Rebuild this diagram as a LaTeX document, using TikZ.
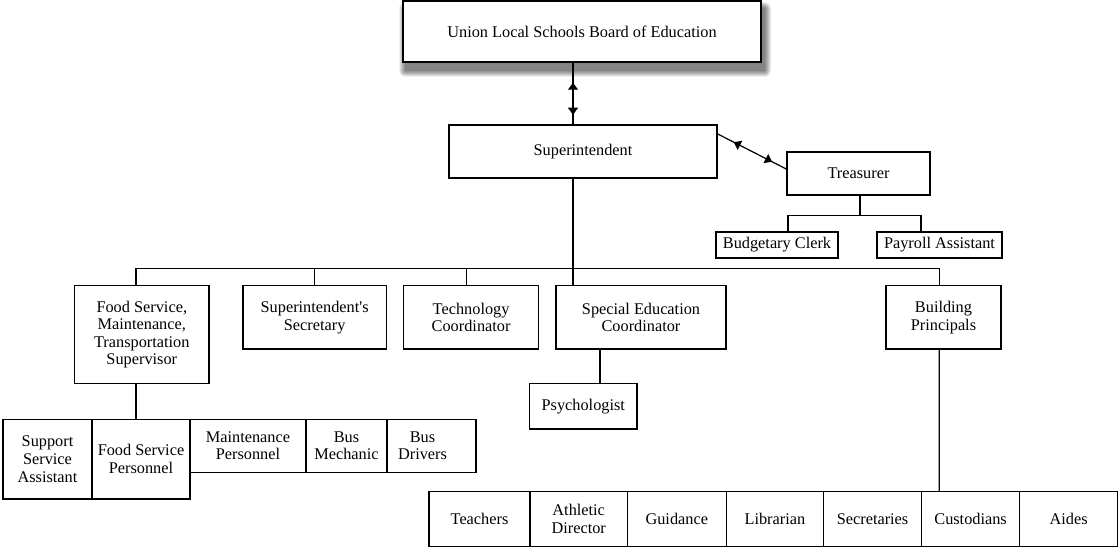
\documentclass[tikz,border=0pt]{standalone}
\usepackage{fontspec}
\setmainfont{Liberation Serif}
\usetikzlibrary{arrows.meta,decorations.markings,backgrounds}
\begin{document}
\begin{tikzpicture}[x=1pt,y=-1pt,
  box/.style={draw, line width=1.5pt, fill=white, inner sep=0pt, align=center,
    font=\fontsize{16.3}{17.6}\selectfont},
  conn/.style={line width=1.2pt},
  tip/.tip={Triangle[length=7pt,width=10pt]}]
\useasboundingbox (0,0) rectangle (1119,548);

% top
\node[box, minimum width=358pt, minimum height=61pt] (board) at (582,31.5) {Union Local Schools Board of Education};
\node[box, minimum width=268pt, minimum height=53pt] (super) at (583,151.5) {Superintendent};
\node[box, minimum width=143pt, minimum height=43pt] (treas) at (858.5,173.5) {Treasurer};
\node[box, minimum width=122pt, minimum height=26pt] (budget) at (777,245) {Budgetary Clerk};
\node[box, minimum width=125pt, minimum height=26pt] (payroll) at (939.5,245) {Payroll Assistant};

% shadow of board
\begin{scope}[on background layer]
\foreach \i in {0,...,6}
  \fill[black, opacity=0.09, rounded corners=\i pt]
    ([shift={(3-\i,8-\i)}]board.north west) rectangle ([shift={(3+\i,8+\i)}]board.south east);
\end{scope}

% level 2
\node[box, minimum width=134.4pt, minimum height=97.6pt] (food) at (141.8,334.5) {Food Service,\\Maintenance,\\Transportation\\Supervisor};
\node[box, minimum width=143.5pt, minimum height=63.3pt] (sec) at (314.65,317.35) {Superintendent\textquotesingle s\\Secretary};
\node[box, minimum width=135pt, minimum height=63.3pt] (tech) at (471.1,317.35) {Technology\\Coordinator};
\node[box, minimum width=170pt, minimum height=63.3pt] (spec) at (641,317.35) {Special Education\\Coordinator};
\node[box, minimum width=115pt, minimum height=63.3pt] (bp) at (943.5,317.35) {Building\\Principals};
\node[box, minimum width=107.4pt, minimum height=45.7pt] (psych) at (583.3,406.2) {Psychologist};

% bottom left row
\node[box, minimum width=89pt, minimum height=79.7pt] (ssa) at (47.5,459.2) {Support\\Service\\Assistant};
\node[box, minimum width=98pt, minimum height=79.7pt] (fsp) at (141,459.2) {Food Service\\Personnel};
\node[box, minimum width=116pt, minimum height=53pt] (mp) at (248,445.8) {Maintenance\\Personnel};
\node[box, minimum width=81pt, minimum height=53pt] (bm) at (346.5,445.8) {Bus\\Mechanic};
\node[box, minimum width=89pt, minimum height=53pt] (bd) at (431.5,445.8) {Bus\hspace*{18pt}\\Drivers\hspace*{18pt}};

% bottom right row
\node[box, minimum width=101.2pt, minimum height=55pt] (teach) at (479.5,519.2) {Teachers};
\node[box, minimum width=97.2pt, minimum height=55pt] (ath) at (578.7,519.2) {Athletic\\Director};
\node[box, minimum width=99pt, minimum height=55pt] (guid) at (676.8,519.2) {Guidance};
\node[box, minimum width=97.2pt, minimum height=55pt] (lib) at (774.9,519.2) {Librarian};
\node[box, minimum width=98.1pt, minimum height=55pt] (secs) at (872.55,519.2) {Secretaries};
\node[box, minimum width=98pt, minimum height=55pt] (cust) at (970.6,519.2) {Custodians};
\node[box, minimum width=98.1pt, minimum height=55pt] (aides) at (1068.65,519.2) {Aides};

% connectors
\draw[conn, postaction={decorate}, decoration={markings,
    mark=at position 20pt with {\arrowreversed{tip}},
    mark=at position 52pt with {\arrow{tip}}}]
  ([xshift=-9pt]board.south) -- ([xshift=-10pt]super.north);
\draw[conn, postaction={decorate}, decoration={markings,
    mark=at position 18pt with {\arrowreversed{tip}},
    mark=at position 61pt with {\arrow{tip}}}]
  ([yshift=17.5pt]super.east) -- ([yshift=4.5pt]treas.west);

\draw[conn] ([xshift=1.5pt]treas.south) -- ([xshift=1.5pt,yshift=-20pt]treas.south);
\draw[conn] ([xshift=11pt]budget.north) |- ([xshift=1.5pt,yshift=-20pt]treas.south) -| ([xshift=-18.5pt]payroll.north);

\coordinate (bus) at (573,268.3);
\draw[conn] ([xshift=-10pt]super.south) -- ([xshift=-68pt]spec.north);
\draw[conn] ([xshift=-5.8pt]food.north) |- (bus) -| ([xshift=-4.3pt]bp.north);
\draw[conn] (sec.north) -- (sec.north |- bus);
\draw[conn] ([xshift=-4.7pt]tech.north) -- ([xshift=-4.7pt]tech.north |- bus);
\draw[conn] ([xshift=-41pt]spec.south) -- ([xshift=16.7pt]psych.north);
\draw[conn] ([xshift=-5.8pt]food.south) -- ([xshift=-5pt]fsp.north);
\draw[conn] ([xshift=-4.3pt]bp.south) -- ([xshift=-31.4pt]cust.north);
\end{tikzpicture}
\end{document}
